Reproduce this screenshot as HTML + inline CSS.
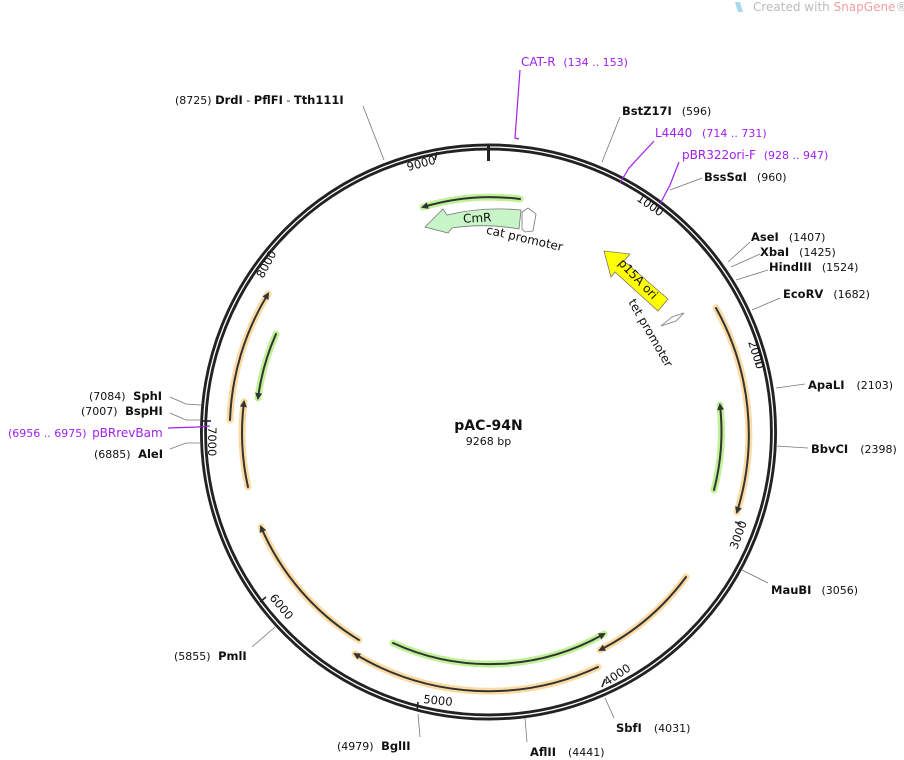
<!DOCTYPE html>
<html><head><meta charset="utf-8"><style>
html,body{margin:0;padding:0;background:#fff}
svg{display:block;font-family:"DejaVu Sans","Liberation Sans",sans-serif}
.b{font-weight:bold;font-size:11.5px}
.n{font-size:11px}
.m{fill:#a020f0}
.g{stroke:#777;stroke-width:0.8;fill:none}
.tk{font-size:11.5px}
</style></head><body>
<svg width="904" height="760" viewBox="0 0 904 760" xmlns="http://www.w3.org/2000/svg">
<defs>
<marker id="ar" markerWidth="8" markerHeight="8" refX="5" refY="4" orient="auto" markerUnits="userSpaceOnUse"><path d="M0,0.5 L7,4 L0,7.5 Z" fill="#333"/></marker>
</defs>
<text x="753" y="11" font-size="12" fill="#bbb">Created with <tspan fill="#f3a0a0">SnapGene</tspan>®</text>
<path d="M735,2 l5,0 l3,10 l-5,0z" fill="#a8d8ec"/>

<circle cx="488.5" cy="432" r="285" fill="none" stroke="#222" stroke-width="7"/>
<circle cx="488.5" cy="432" r="285" fill="none" stroke="#fff" stroke-width="1.3"/>
<line x1="488.5" y1="146" x2="488.5" y2="161" stroke="#222" stroke-width="3"/>

<g fill="#111" class="tk">
<text transform="translate(408,171) rotate(-15)">9000</text>
<text transform="translate(636,200) rotate(35)">1000</text>
<text transform="translate(748,342) rotate(72)">2000</text>
<text transform="translate(737,550) rotate(-70)">3000</text>
<text transform="translate(607,686) rotate(-33)">4000</text>
<text transform="translate(423,703) rotate(6)">5000</text>
<text transform="translate(269,598) rotate(50)">6000</text>
<text transform="translate(208,427) rotate(90)">7000</text>
<text transform="translate(263,279) rotate(-62)">8000</text>
</g>
<g stroke="#222" stroke-width="1.6">
<line x1="437" y1="152" x2="435" y2="160"/>
<line x1="660" y1="205" x2="656" y2="212"/>
<line x1="762" y1="362" x2="755" y2="364"/>
<line x1="741" y1="524" x2="735" y2="522"/>
<line x1="605" y1="679" x2="602" y2="687"/>
<line x1="418" y1="702" x2="417" y2="711"/>
<line x1="266" y1="597" x2="260" y2="602"/>
<line x1="203" y1="421" x2="211" y2="421"/>
<line x1="276" y1="246" x2="271" y2="252"/>
</g>

<g fill="none" stroke-linecap="round">
<g stroke="#fcd89a" stroke-width="7" opacity="0.9">
<path d="M716,308 A260,260 0 0 1 737,512"/>
<path d="M686,577 A245,245 0 0 1 600,650"/>
<path d="M598,667 A259,259 0 0 1 355,654"/>
<path d="M359,640 A245,245 0 0 1 261,527"/>
<path d="M230,420 A259,259 0 0 1 268,294"/>
<path d="M248,487 A246,246 0 0 1 244,402"/>
</g>
<g stroke="#b8f08c" stroke-width="7" opacity="0.9">
<path d="M520,199 A234,234 0 0 0 423,207"/>
<path d="M714,490 A233,233 0 0 0 720,405"/>
<path d="M393,643 A232,232 0 0 0 604,634"/>
<path d="M276,334 A233,233 0 0 0 258,398"/>
</g>
<g stroke="#333" stroke-width="2" marker-end="url(#ar)">
<path d="M716,308 A260,260 0 0 1 737,512"/>
<path d="M686,577 A245,245 0 0 1 600,650"/>
<path d="M598,667 A259,259 0 0 1 355,654"/>
<path d="M359,640 A245,245 0 0 1 261,527"/>
<path d="M230,420 A259,259 0 0 1 268,294"/>
<path d="M248,487 A246,246 0 0 1 244,402"/>
<path d="M520,199 A234,234 0 0 0 423,207"/>
<path d="M714,490 A233,233 0 0 0 720,405"/>
<path d="M393,643 A232,232 0 0 0 604,634"/>
<path d="M276,334 A233,233 0 0 0 258,398"/>
</g>
</g>

<path d="M521,210 A223,223 0 0 0 447,215 L443,209 L425,227 L448,233 L452,228 A205,205 0 0 1 519,229 Z" fill="#c8f5c8" stroke="#777" stroke-width="0.8"/>
<text x="463" y="222" font-size="12" fill="#111" transform="rotate(-3 478 218)">CmR</text>
<path d="M522,212 L528,208 L536,214 L533,231 L525,232 L522,229 Z" fill="#fff" stroke="#777" stroke-width="0.8"/>
<text x="484" y="242" font-size="12" fill="#111" transform="rotate(13 522 245)">cat promoter</text>

<path d="M604,251 L630,254 L624,261 L668,299 L658,311 L615,272 L611,277 Z" fill="#ffff00" stroke="#777" stroke-width="0.8"/>
<text x="638" y="283" font-size="12" fill="#111" text-anchor="middle" transform="rotate(46 638 279)">p15A ori</text>
<path d="M661,326 L672,317 L684,313 L676,321 Z" fill="#fff" stroke="#777" stroke-width="0.8"/>
<text x="628" y="302" font-size="12" fill="#111" transform="rotate(60 628 302)">tet promoter</text>

<text x="488.5" y="430" text-anchor="middle" font-size="14" font-weight="bold" fill="#111">pAC-94N</text>
<text x="488.5" y="445" text-anchor="middle" font-size="11" fill="#111">9268 bp</text>

<g class="g">
<path d="M363,106 L384,160"/>
<path d="M620,117 L602,162"/>
<path d="M702,178 L670,190"/>
<path d="M750,242 L728,262"/>
<path d="M760,254 L731,267"/>
<path d="M768,270 L736,280"/>
<path d="M780,298 L752,310"/>
<path d="M805,384 L776,388"/>
<path d="M808,448 L776,446"/>
<path d="M768,583 L742,570"/>
<path d="M614,718 L605,698"/>
<path d="M527,742 L525,718"/>
<path d="M420,737 L418,714"/>
<path d="M252,647 L275,627"/>
<path d="M170,397 L186,404 L201,405"/>
<path d="M170,413 L186,420 L201,420"/>
<path d="M170,449 L186,443 L201,443"/>
</g>
<g stroke="#a020f0" stroke-width="1.2" fill="none">
<path d="M520,70 L515,138 L519,139"/>
<path d="M654,141 L629,168 L620,183"/>
<path d="M679,162 L670,185 L660,204"/>
<path d="M168,428 L198,427 L210,426"/>
</g>

<g fill="#111">
<text x="175" y="104" class="n">(8725) <tspan class="b">DrdI</tspan>  -  <tspan class="b">PflFI</tspan>  -  <tspan class="b">Tth111I</tspan></text>
<text x="622" y="115" class="b">BstZ17I <tspan class="n" font-weight="normal" dx="6">(596)</tspan></text>
<text x="704" y="181" class="b">BssSαI <tspan class="n" font-weight="normal" dx="6">(960)</tspan></text>
<text x="751" y="241" class="b">AseI <tspan class="n" font-weight="normal" dx="6">(1407)</tspan></text>
<text x="760" y="256" class="b">XbaI <tspan class="n" font-weight="normal" dx="6">(1425)</tspan></text>
<text x="769" y="271" class="b">HindIII <tspan class="n" font-weight="normal" dx="6">(1524)</tspan></text>
<text x="783" y="298" class="b">EcoRV <tspan class="n" font-weight="normal" dx="6">(1682)</tspan></text>
<text x="808" y="389" class="b">ApaLI <tspan class="n" font-weight="normal" dx="8">(2103)</tspan></text>
<text x="811" y="453" class="b">BbvCI <tspan class="n" font-weight="normal" dx="8">(2398)</tspan></text>
<text x="771" y="594" class="b">MauBI <tspan class="n" font-weight="normal" dx="6">(3056)</tspan></text>
<text x="616" y="732" class="b">SbfI <tspan class="n" font-weight="normal" dx="8">(4031)</tspan></text>
<text x="530" y="756" class="b">AflII <tspan class="n" font-weight="normal" dx="8">(4441)</tspan></text>
<text x="337" y="750" class="n">(4979) <tspan class="b" dx="4">BglII</tspan></text>
<text x="174" y="660" class="n">(5855) <tspan class="b" dx="4">PmlI</tspan></text>
<text x="89" y="400" class="n">(7084) <tspan class="b" dx="4">SphI</tspan></text>
<text x="81" y="415" class="n">(7007) <tspan class="b" dx="4">BspHI</tspan></text>
<text x="94" y="458" class="n">(6885) <tspan class="b" dx="4">AleI</tspan></text>
</g>
<g class="m">
<text x="521" y="66" font-size="12">CAT-R <tspan font-size="11" dx="4">(134 .. 153)</tspan></text>
<text x="655" y="137" font-size="12">L4440 <tspan font-size="11" dx="6">(714 .. 731)</tspan></text>
<text x="682" y="159" font-size="12">pBR322ori-F <tspan font-size="11" dx="4">(928 .. 947)</tspan></text>
<text x="8" y="437" font-size="11">(6956 .. 6975) <tspan font-size="12" dx="2">pBRrevBam</tspan></text>
</g>
</svg>
</body></html>
